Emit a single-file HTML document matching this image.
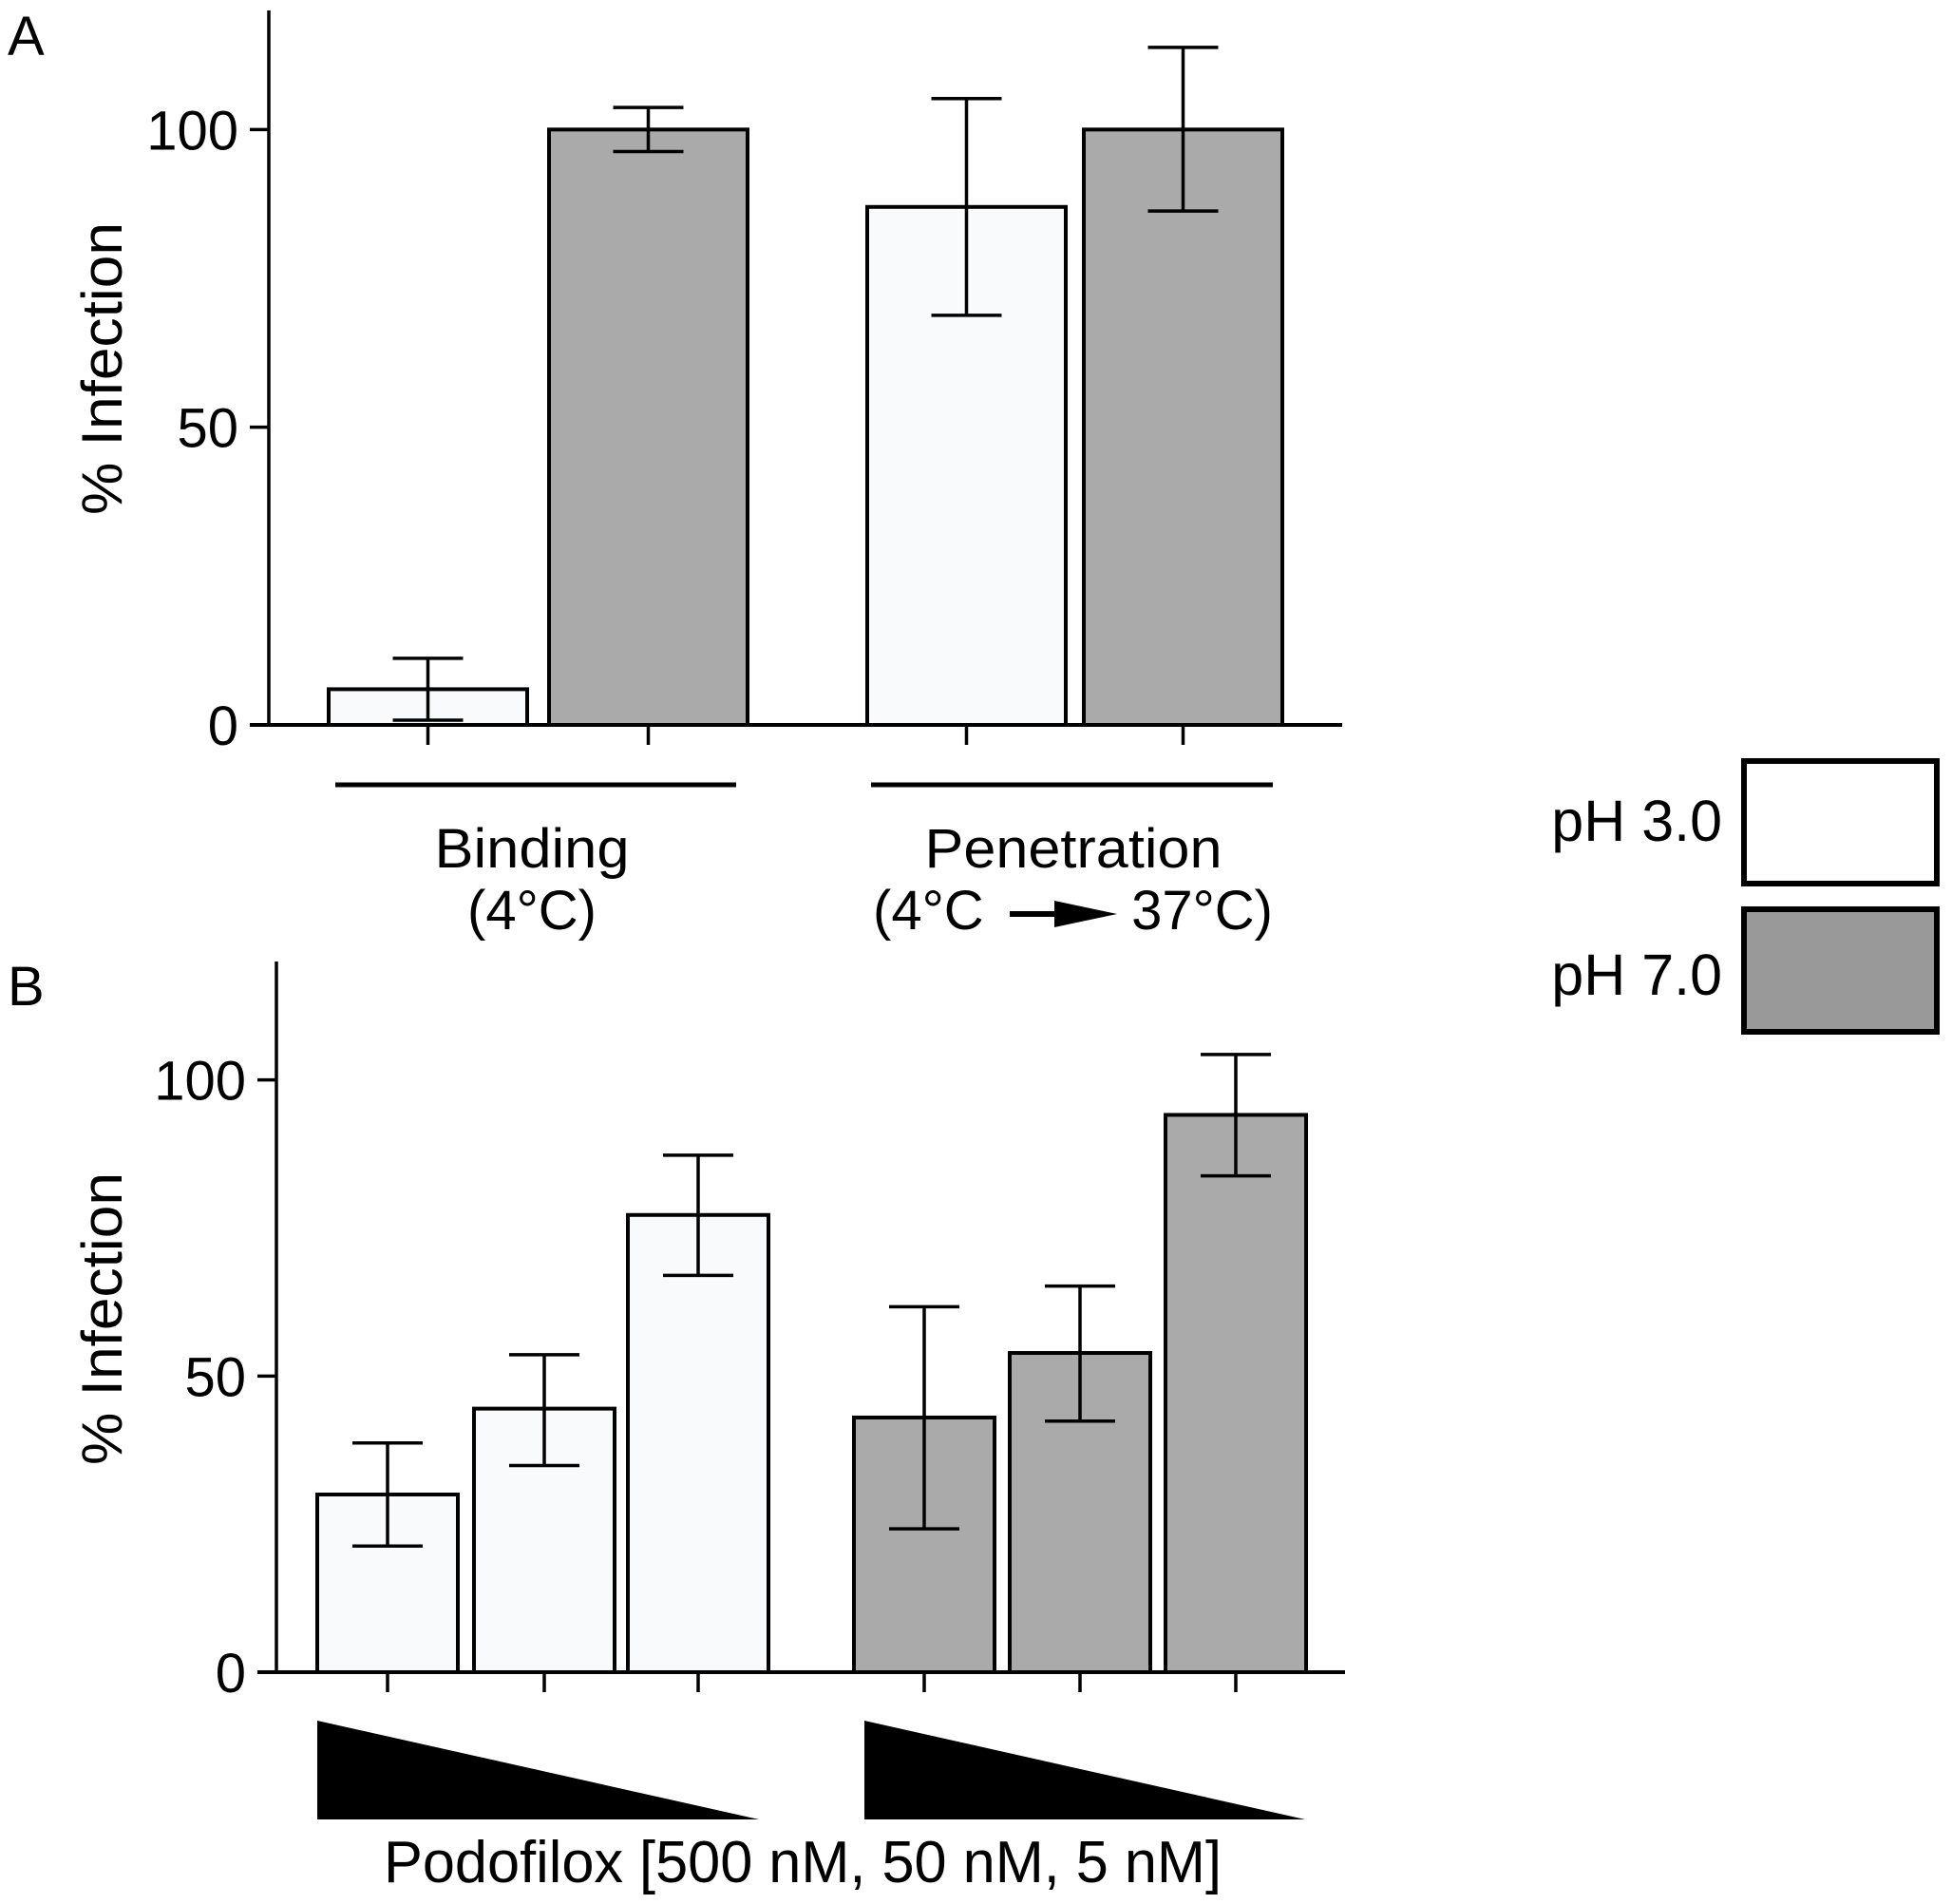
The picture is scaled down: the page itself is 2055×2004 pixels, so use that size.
<!DOCTYPE html>
<html><head><meta charset="utf-8"><style>
html,body{margin:0;padding:0;background:#fff;}
svg{display:block;font-family:"Liberation Sans",Arial,sans-serif;}
</style></head><body>
<svg id="fig" width="2055" height="2004" viewBox="0 0 2055 2004" xmlns="http://www.w3.org/2000/svg">
<g id="gA"></g>
<g id="gB"></g>
<g>
  <g>
    <rect x="1836" y="801" width="203" height="129" fill="#fff" stroke="#000" stroke-width="6"/>
    <text x="1813" y="885" font-size="61" text-anchor="end">pH 3.0</text>
  </g>
  <g>
    <rect x="1836" y="957" width="203" height="129" fill="#999" stroke="#000" stroke-width="6"/>
    <text x="1813" y="1047" font-size="61" text-anchor="end">pH 7.0</text>
  </g>
</g>
</svg>
<script>
// Panel A data
const catsA = ['Binding pH3', 'Binding pH7', 'Penetration pH3', 'Penetration pH7'];
const valsA = [6, 100, 87, 100];
const errHiA = [11.2, 103.7, 105.2, 113.8];
const errLoA = [0.8, 96.3, 68.8, 86.3];
const phA = [3, 7, 3, 7];
// Panel B data
const catsB = ['pH3 500nM', 'pH3 50nM', 'pH3 5nM', 'pH7 500nM', 'pH7 50nM', 'pH7 5nM'];
const valsB = [30.0, 44.5, 77.2, 43.0, 53.9, 94.1];
const errHiB = [38.7, 53.6, 87.3, 61.7, 65.2, 104.3];
const errLoB = [21.3, 34.9, 67.0, 24.2, 42.4, 83.8];
const phB = [3, 3, 3, 7, 7, 7];
const yTicks = [0, 50, 100];
const yTickLabels = ['0', '50', '100'];

const NS = 'http://www.w3.org/2000/svg';
function mk(parent, tag, attrs, text) {
  const e = document.createElementNS(NS, tag);
  for (const k in attrs) e.setAttribute(k, attrs[k]);
  if (text !== undefined) e.textContent = text;
  parent.appendChild(e);
  return e;
}

function drawPanel(g, cfg, vals, hi, lo, ph, cats) {
  const y = v => cfg.y0 - (v / 120) * (cfg.y0 - cfg.yTop);
  const barX = i => cfg.barStarts[i];
  // bars
  vals.forEach((v, i) => {
    const x0 = barX(i);
    const r = mk(g, 'rect', {x: x0, y: y(v), width: cfg.barW, height: y(0) - y(v),
      fill: ph[i] === 3 ? '#f9fafb' : '#aaaaaa', stroke: '#000', 'stroke-width': 4});
    
    
    const cx = x0 + cfg.barW / 2;
    const eg = mk(g, 'g', {stroke: '#000', 'stroke-width': 3.5});
    
    
    mk(eg, 'line', {x1: cx, x2: cx, y1: y(hi[i]), y2: y(lo[i])});
    mk(eg, 'line', {x1: cx - 37, x2: cx + 37, y1: y(hi[i]), y2: y(hi[i])});
    mk(eg, 'line', {x1: cx - 37, x2: cx + 37, y1: y(lo[i]), y2: y(lo[i])});
    // x tick
    const t = mk(g, 'line', {x1: cx, x2: cx, y1: y(0), y2: y(0) + 21, stroke: '#000', 'stroke-width': 3.5});
    
    
  });
  // axes
  const ya = mk(g, 'line', {x1: cfg.ax, x2: cfg.ax, y1: cfg.yTop, y2: y(0) + 2, stroke: '#000', 'stroke-width': 3.5});
  
  
  const xa = mk(g, 'line', {x1: cfg.ax - 20, x2: cfg.axEnd, y1: y(0), y2: y(0), stroke: '#000', 'stroke-width': 4});
  
  
  yTicks.forEach((tv, i) => {
    const l = mk(g, 'line', {x1: cfg.ax - 20, x2: cfg.ax, y1: y(tv), y2: y(tv), stroke: '#000', 'stroke-width': 3.5});
    
    
    const tx = mk(g, 'text', {x: cfg.ax - 32, y: y(tv) + 21, 'font-size': 58, 'text-anchor': 'end'}, yTickLabels[i]);
    
    
  });
  const yt = mk(g, 'text', {x: 0, y: 0, 'font-size': 60, 'text-anchor': 'middle',
    transform: 'translate(' + (cfg.titleX) + ',' + cfg.titleY + ') rotate(-90)', textLength: 308, lengthAdjust: 'spacingAndGlyphs'}, '% Infection');
  
  
  const pl = mk(g, 'text', {x: 8, y: cfg.labelY, 'font-size': 58}, cfg.label);
  
  
}

const gA = document.getElementById('gA');
drawPanel(gA, {y0: 763, yTop: 11, ax: 283, axEnd: 1413, barW: 209,
  barStarts: [346, 578, 913, 1141], titleX: 128, titleY: 388, label: 'A', labelY: 58},
  valsA, errHiA, errLoA, phA, catsA);
// group lines and labels
[[353, 775, 560, 'Binding', '(4°C)', 205], [917, 1340, 1130, 'Penetration', null, 313]].forEach(d => {
  const l = mk(gA, 'line', {x1: d[0], x2: d[1], y1: 826, y2: 826, stroke: '#000', 'stroke-width': 5});
  
  
  const t = mk(gA, 'text', {x: d[2], y: 913, 'font-size': 58, 'text-anchor': 'middle', textLength: d[5], lengthAdjust: 'spacingAndGlyphs'}, d[3]);
  
  
  if (d[4]) {
    const t2 = mk(gA, 'text', {x: d[2], y: 978, 'font-size': 58, 'text-anchor': 'middle'}, d[4]);
    
    
  }
});
const t3 = mk(gA, 'text', {x: 919, y: 978, 'font-size': 58}, '(4°C');


const t4 = mk(gA, 'text', {x: 1340, y: 978, 'font-size': 58, 'text-anchor': 'end'}, '37°C)');


const arr = mk(gA, 'g', {});


mk(arr, 'line', {x1: 1063, x2: 1120, y1: 962, y2: 962, stroke: '#000', 'stroke-width': 6});
mk(arr, 'polygon', {points: '1110,948 1176,962 1110,976', fill: '#000'});

const gB = document.getElementById('gB');
drawPanel(gB, {y0: 1760, yTop: 1012, ax: 291, axEnd: 1416, barW: 148,
  barStarts: [334, 499, 661, 899, 1063, 1227], titleX: 128, titleY: 1388, label: 'B', labelY: 1058},
  valsB, errHiB, errLoB, phB, catsB);
[[334, 799], [910, 1374]].forEach(d => {
  const p = mk(gB, 'polygon', {points: d[0] + ',1811 ' + d[1] + ',1915 ' + d[0] + ',1915', fill: '#000'});
  
  
});
const xt = mk(gB, 'text', {x: 845, y: 1981, 'font-size': 62, 'text-anchor': 'middle', textLength: 882, lengthAdjust: 'spacingAndGlyphs'}, 'Podofilox [500 nM, 50 nM, 5 nM]');


</script>
</body></html>
